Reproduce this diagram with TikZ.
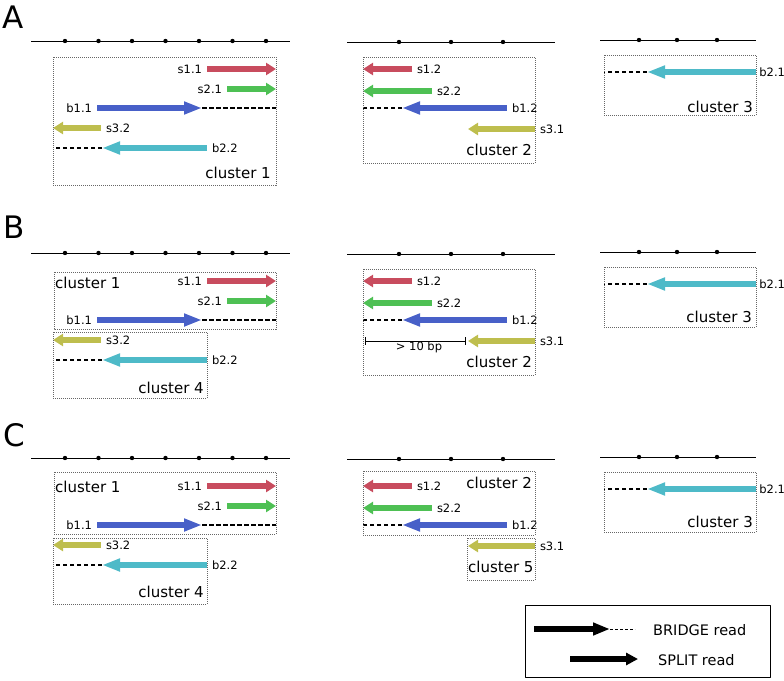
\documentclass[tikz,border=0pt]{standalone}
\usepackage{fontspec}
\setmainfont{DejaVu Sans}
\usetikzlibrary{arrows.meta}
\definecolor{readred}{RGB}{200,76,94}
\definecolor{readgreen}{RGB}{78,192,84}
\definecolor{readblue}{RGB}{72,96,200}
\definecolor{readyellow}{RGB}{190,190,78}
\definecolor{readcyan}{RGB}{78,186,200}
\begin{document}
\begin{tikzpicture}[x=1pt, y=-1pt, line join=round,
	split/.style={line width=6pt, -{Triangle[length=10pt,width=12pt]}},
	bridge/.style={line width=6pt, -{Triangle[length=18pt,width=12pt]}},
	ext/.style={line width=1.3pt, dash pattern=on 4.5pt off 2.5pt},
	clbox/.style={draw=black!60, line width=0.6pt, dash pattern=on 1pt off 1pt},
	rd/.style={text=black, font=\fontsize{11.5}{13}\selectfont, inner sep=2pt},
	cl/.style={font=\fontsize{15}{18}\selectfont, inner sep=0pt},
	panel/.style={font=\fontsize{31}{36}\selectfont, inner sep=0pt, anchor=base west}]
	\useasboundingbox (0,0) rectangle (784,680);
	% panel letters
	\node[panel] (pA) at (2,28) {A};
	\node[panel] (pB) at (3,238) {B};
	\node[panel] (pC) at (3,446) {C};
	% genome and reads, same in every panel
	\foreach \dy in {0,212,417}{
	\begin{scope}[shift={(0,\dy)}]
		\draw[line width=0.9pt] (31,41)--(290,41);
		\draw[line width=0.9pt] (347,42)--(555,42);
		\draw[line width=0.9pt] (600,40)--(756,40);
		\foreach \x in {65,98.5,...,266} \fill (\x,41) circle (2.2);
		\foreach \x in {399,451,503} \fill (\x,42) circle (2.2);
		\foreach \x in {639,677,717} \fill (\x,40) circle (2.2);
		% cluster 1 side
		\draw[split, readred] (207,69) node[rd, left] (s11-\dy) {s1.1} -- (276,69);
		\draw[split, readgreen] (227,89) node[rd, left] (s21-\dy) {s2.1} -- (276,89);
		\draw[bridge, readblue] (97,108) node[rd, left] (b11-\dy) {b1.1} -- (202,108);
		\draw[ext] (202,108)--(276,108);
		\draw[split, readyellow] (101,128) node[rd, right] (s32-\dy) {s3.2} -- (53,128);
		\draw[bridge, readcyan] (207,148) node[rd, right] (b22-\dy) {b2.2} -- (102,148);
		\draw[ext] (102,148)--(53,148);
		% cluster 2 side
		\draw[split, readred] (412,69) node[rd, right] (s12-\dy) {s1.2} -- (363,69);
		\draw[split, readgreen] (432,91) node[rd, right] (s22-\dy) {s2.2} -- (363,91);
		\draw[bridge, readblue] (507,108) node[rd, right] (b12-\dy) {b1.2} -- (402,108);
		\draw[ext] (402,108)--(363,108);
		\draw[split, readyellow] (535,129) node[rd, right] (s31-\dy) {s3.1} -- (468,129);
		% cluster 3 side
		\draw[bridge, readcyan] (756,72) node[rd, right, inner sep=0.4pt] (b21-\dy) {b2.1} -- (647,72);
		\draw[ext] (647,72)--(604,72);
	\end{scope}
	}
	% A
	\draw[clbox] (53,57) rectangle (276,185);
	\node[cl, anchor=base east] (cA1) at (271,178) {cluster 1};
	\draw[clbox] (363,57) rectangle (535,163);
	\node[cl, anchor=base east] (cA2) at (532,155) {cluster 2};
	\draw[clbox] (604,55) rectangle (756,115);
	\node[cl, anchor=base east] (cA3) at (753,112) {cluster 3};
	% B
	\draw[clbox] (54,272) rectangle (276,329);
	\node[cl, anchor=base west] (cB1) at (55,288) {cluster 1};
	\draw[clbox] (53,332) rectangle (207,398);
	\node[cl, anchor=base east] (cB4) at (204,393) {cluster 4};
	\draw[clbox] (363,269) rectangle (535,375);
	\node[cl, anchor=base east] (cB2) at (532,367) {cluster 2};
	\draw[clbox] (604,267) rectangle (756,327);
	\node[cl, anchor=base east] (cB3) at (752,322) {cluster 3};
	\draw[line width=0.7pt] (365,337)--(365,345) (365,341)--(465,341) (465,337)--(465,345);
	\node[rd, anchor=base] (gap) at (419,350) {> 10 bp};
	% C
	\draw[clbox] (54,472) rectangle (276,534);
	\node[cl, anchor=base west] (cC1) at (55,492) {cluster 1};
	\draw[clbox] (53,538) rectangle (207,604);
	\node[cl, anchor=base east] (cC4) at (204,597) {cluster 4};
	\draw[clbox] (363,471) rectangle (535,535);
	\node[cl, anchor=base east] (cC2) at (532,488) {cluster 2};
	\draw[clbox] (467,538) rectangle (535,580);
	\node[cl, anchor=base west] (cC5) at (468,572) {cluster 5};
	\draw[clbox] (604,472) rectangle (756,532);
	\node[cl, anchor=base east] (cC3) at (753,527) {cluster 3};
	% legend
	\draw[line width=0.9pt] (525,605) rectangle (770,677);
	\draw[line width=6pt, -{Triangle[length=17pt,width=12pt]}] (534,629)--(610,629);
	\draw[line width=0.8pt, dash pattern=on 3pt off 2pt] (610,629)--(635,629);
	\draw[line width=6pt, -{Triangle[length=12pt,width=12pt]}] (570,659)--(638,659);
	\node[font=\fontsize{14.5}{17}\selectfont, inner sep=0pt, anchor=base west] (lgB) at (653,635) {BRIDGE read};
	\node[font=\fontsize{14.5}{17}\selectfont, inner sep=0pt, anchor=base west] (lgS) at (658,665) {SPLIT read};
\end{tikzpicture}
\end{document}
